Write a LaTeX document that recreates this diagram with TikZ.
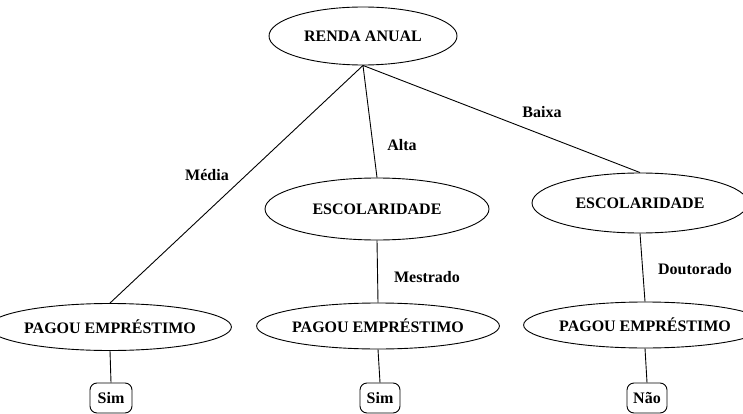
\documentclass[tikz,border=0pt]{standalone}
\usepackage{fontspec}
\setmainfont{Liberation Serif}
\usetikzlibrary{shapes.geometric}

\tikzset{
	atributo/.style={ellipse, draw, line width=0.9pt, inner sep=0pt, font=\bfseries\fontsize{16}{19}\selectfont},
	folha/.style={rectangle, draw, line width=0.9pt, rounded corners=7pt, inner sep=0pt, font=\bfseries\fontsize{16}{19}\selectfont},
	ramo/.style={line width=0.9pt},
	rotulo/.style={inner sep=0pt, font=\bfseries\fontsize{16}{19}\selectfont},
}

\begin{document}
\begin{tikzpicture}[
x=1pt,
y=-1pt,
]

	\useasboundingbox (0,0) rectangle (743,414);

	%%%%%%%%%%%%%%%%%%%%%%%%%%%%
	%Knoten
	%%%%%%%%%%%%%%%%%%%%%%%%%%%%

	\node[atributo, minimum width=188pt, minimum height=58pt] (renda) at (363,36) {RENDA ANUAL};

	\node[atributo, minimum width=224pt, minimum height=62pt] (escB) at (377,209) {ESCOLARIDADE};
	\node[atributo, minimum width=216pt, minimum height=60pt] (escC) at (640,203) {ESCOLARIDADE};

	\node[atributo, minimum width=200pt, minimum height=47pt] (pagA) at (110,327) {PAGOU EMPRÉSTIMO};
	\node[atributo, minimum width=198pt, minimum height=46pt] (pagB) at (378,326) {PAGOU EMPRÉSTIMO};
	\node[atributo, minimum width=194pt, minimum height=46pt] (pagC) at (645,325) {PAGOU EMPRÉSTIMO};

	\node[folha, minimum width=42pt, minimum height=30pt] (simA) at (111,398) {Sim};
	\node[folha, minimum width=40pt, minimum height=30pt] (simB) at (380,398) {Sim};
	\node[folha, minimum width=40pt, minimum height=30pt] (nao) at (647,398) {Não};

	%%%%%%%%%%%%%%%%%%%%%%%%%%%%
	%Kanten
	%%%%%%%%%%%%%%%%%%%%%%%%%%%%

	\draw [ramo] (renda.south) -- (pagA.north);
	\draw [ramo] (renda.south) -- (escB.north);
	\draw [ramo] (renda.south) -- (escC.north);

	\draw [ramo] (escB.south) -- (pagB.north);
	\draw [ramo] (escC.south) -- (pagC.north);

	\draw [ramo] (pagA.south) -- (simA.north);
	\draw [ramo] (pagB.south) -- (simB.north);
	\draw [ramo] (pagC.south) -- (nao.north);

	\node[rotulo] (lmedia) at (207,175) {Média};
	\node[rotulo] (lalta) at (402,145) {Alta};
	\node[rotulo] (lbaixa) at (542,112) {Baixa};
	\node[rotulo] (lmestrado) at (427,277) {Mestrado};
	\node[rotulo] (ldoutorado) at (695,269) {Doutorado};

\end{tikzpicture}
\end{document}
